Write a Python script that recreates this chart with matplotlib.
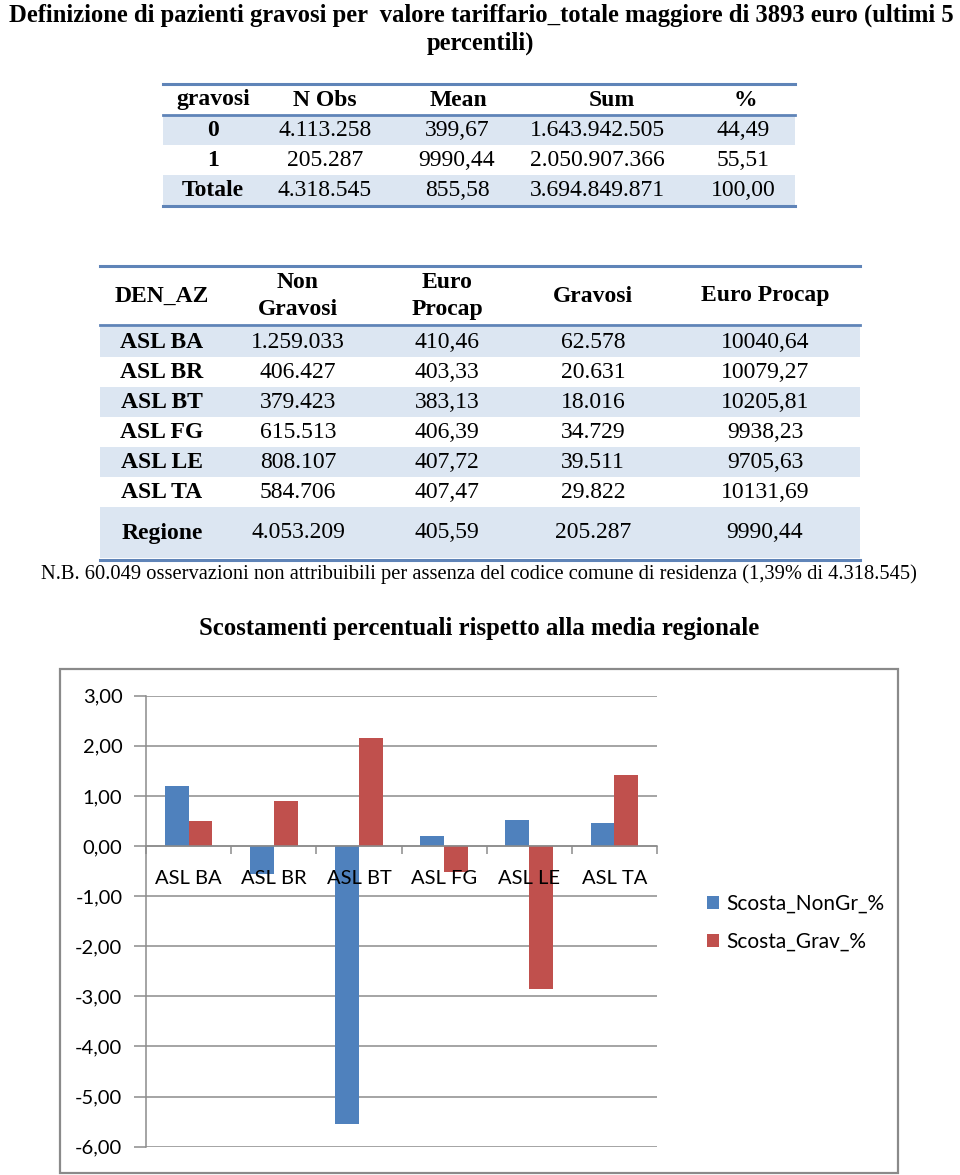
import matplotlib
matplotlib.use('Agg')
import matplotlib.pyplot as plt
from matplotlib.patches import Rectangle
from matplotlib.lines import Line2D
import numpy as np

# ---------------- data ----------------
title_line1 = "Definizione di pazienti gravosi per  valore tariffario_totale maggiore di 3893 euro (ultimi 5"
title_line2 = "percentili)"

t1_header = ["gravosi", "N Obs", "Mean", "Sum", "%"]
t1_gravosi = ["0", "1", "Totale"]
t1_nobs = ["4.113.258", "205.287", "4.318.545"]
t1_mean = ["399,67", "9990,44", "855,58"]
t1_sum = ["1.643.942.505", "2.050.907.366", "3.694.849.871"]
t1_pct = ["44,49", "55,51", "100,00"]

t2_header = ["DEN_AZ", "Non\nGravosi", "Euro\nProcap", "Gravosi", "Euro Procap"]
t2_den = ["ASL BA", "ASL BR", "ASL BT", "ASL FG", "ASL LE", "ASL TA", "Regione"]
t2_nongrav = ["1.259.033", "406.427", "379.423", "615.513", "808.107", "584.706", "4.053.209"]
t2_euro_ng = ["410,46", "403,33", "383,13", "406,39", "407,72", "407,47", "405,59"]
t2_grav = ["62.578", "20.631", "18.016", "34.729", "39.511", "29.822", "205.287"]
t2_euro_g = ["10040,64", "10079,27", "10205,81", "9938,23", "9705,63", "10131,69", "9990,44"]

note = "N.B. 60.049 osservazioni non attribuibili per assenza del codice comune di residenza (1,39% di 4.318.545)"
chart_title = "Scostamenti percentuali rispetto alla media regionale"

categories = ["ASL BA", "ASL BR", "ASL BT", "ASL FG", "ASL LE", "ASL TA"]
scosta_nongr = [1.20, -0.56, -5.54, 0.20, 0.52, 0.46]
scosta_grav = [0.50, 0.89, 2.16, -0.52, -2.85, 1.41]
series_names = ["Scosta_NonGr_%", "Scosta_Grav_%"]

# ---------------- figure ----------------
W, H = 960, 1175
fig = plt.figure(figsize=(9.6, 11.75), dpi=100)
fig.patch.set_facecolor('white')
renderer = fig.canvas.get_renderer()

SERIF = 'Liberation Serif'
BAND = '#DCE6F2'
LINE = '#5F84B8'


def fx(x):
    return x / W


def fy(y):
    return 1 - y / H


def txt(x, y, s, size, bold=False, family=SERIF, ha='center', fit=None, ls=1.0):
    t = fig.text(fx(x), fy(y), s, ha=ha, va='center', fontsize=size,
                 fontweight='bold' if bold else 'normal', family=family,
                 color='black', linespacing=ls)
    if fit:
        w = t.get_window_extent(renderer).width
        t.set_fontsize(size * fit / w)
    return t


def hline(x0, x1, y, lw, color):
    fig.add_artist(Line2D([fx(x0), fx(x1)], [fy(y), fy(y)],
                          transform=fig.transFigure, lw=lw, color=color))


def band(x0, x1, y0, y1, color):
    fig.add_artist(Rectangle((fx(x0), fy(y1)), fx(x1) - fx(x0), fy(y0) - fy(y1),
                             transform=fig.transFigure, facecolor=color,
                             edgecolor='none'))


# title
t_title = txt(481, 15, title_line1, 16, bold=True, fit=952)
txt(480, 43, title_line2, t_title.get_fontsize(), bold=True)

# ---------- table 1 ----------
T1X0, T1X1 = 163, 795
band(T1X0, T1X1, 116, 145, BAND)
band(T1X0, T1X1, 175, 205, BAND)
hline(T1X0, T1X1, 84, 2.2, LINE)
hline(T1X0, T1X1, 115, 2.0, LINE)
hline(T1X0, T1X1, 206, 2.2, LINE)
t1_hx = [213, 325, 458, 612, 745]
t1_vx = [213, 325, 457, 597, 743]
for hx, h in zip(t1_hx, t1_header):
    txt(hx, 100, h, 17, bold=True)
row_y1 = [130, 160, 190]
for i, ry in enumerate(row_y1):
    txt(t1_vx[0], ry, t1_gravosi[i], 17, bold=True)
    txt(t1_vx[1], ry, t1_nobs[i], 17)
    txt(t1_vx[2], ry, t1_mean[i], 17)
    txt(t1_vx[3], ry, t1_sum[i], 17)
    txt(t1_vx[4], ry, t1_pct[i], 17)

# ---------- table 2 ----------
T2X0, T2X1 = 100, 860
row_y2 = [342, 372, 402, 432, 462, 492, 533]
row_band = [(327, 357), (357, 387), (387, 417), (417, 447), (447, 477), (477, 507), (507, 558)]
for i, (a, b) in enumerate(row_band):
    if i % 2 == 0:
        band(T2X0, T2X1, a, b, BAND)
hline(T2X0, T2X1, 266, 2.2, LINE)
hline(T2X0, T2X1, 325, 2.0, LINE)
hline(T2X0, T2X1, 560, 2.2, LINE)
t2_x = [162, 298, 447, 593, 765]
for hx, h in zip(t2_x, t2_header):
    txt(hx, 296, h, 17, bold=True, ls=1.35)
for i, ry in enumerate(row_y2):
    txt(t2_x[0], ry, t2_den[i], 17, bold=True)
    txt(t2_x[1], ry, t2_nongrav[i], 17)
    txt(t2_x[2], ry, t2_euro_ng[i], 17)
    txt(t2_x[3], ry, t2_grav[i], 17)
    txt(t2_x[4], ry, t2_euro_g[i], 17)

# note and chart title
txt(479, 574, note, 12, fit=878)
txt(479, 628, chart_title, 16, bold=True, fit=562)

# ---------- chart ----------
GRAY = '#8c8c8c'
BLUE = '#4F81BD'
RED = '#C0504D'
SANS = 'Lato'

fig.add_artist(Rectangle((fx(60), fy(1173)), fx(898) - fx(60), fy(669) - fy(1173),
                         transform=fig.transFigure, facecolor='none',
                         edgecolor='#8a8a8a', lw=1.6))

ax = fig.add_axes([146 / W, (H - 1146.7) / H, (657 - 146) / W, (1146.7 - 695.7) / H])
ax.set_facecolor('none')
ax.set_axisbelow(False)
x = np.arange(len(categories))
bw = 0.28
ax.bar(x - bw / 2, scosta_nongr, bw, color=BLUE, label=series_names[0], zorder=2)
ax.bar(x + bw / 2, scosta_grav, bw, color=RED, label=series_names[1], zorder=2)
ax.set_xlim(-0.5, len(categories) - 0.5)
ax.set_ylim(-6, 3)
yt = np.arange(-6, 4, 1)
ax.set_yticks(yt)
ax.set_yticklabels([f"{v:.2f}".replace('.', ',') for v in yt], family=SANS, fontsize=14.5)
for v in yt:
    ax.axhline(v, color=GRAY, lw=1.1, zorder=0.5)

for s in ['top', 'right']:
    ax.spines[s].set_visible(False)
ax.spines['left'].set_color(GRAY)
ax.spines['left'].set_linewidth(1.1)
ax.spines['bottom'].set_position(('data', 0))
ax.spines['bottom'].set_color(GRAY)
ax.spines['bottom'].set_linewidth(1.1)

ax.set_xticks(np.arange(-0.5, len(categories), 1))
ax.set_xticklabels([])
ax.set_xticks(x, minor=True)
ax.set_xticklabels(categories, minor=True, family=SANS, fontsize=14.5)
ax.tick_params(axis='x', which='major', length=6, color=GRAY, width=1.1, direction='out')
ax.tick_params(axis='x', which='minor', length=0, pad=17)
ax.tick_params(axis='y', length=9, color=GRAY, width=1.1, pad=8)

ax.legend(loc='upper left', bbox_to_anchor=(fx(688), fy(875)),
          bbox_transform=fig.transFigure, frameon=False,
          handlelength=0.6, handleheight=0.6, handletextpad=0.35,
          labelspacing=0.85, prop={'family': SANS, 'size': 15})

fig.savefig('out.png', dpi=100, facecolor='white')
